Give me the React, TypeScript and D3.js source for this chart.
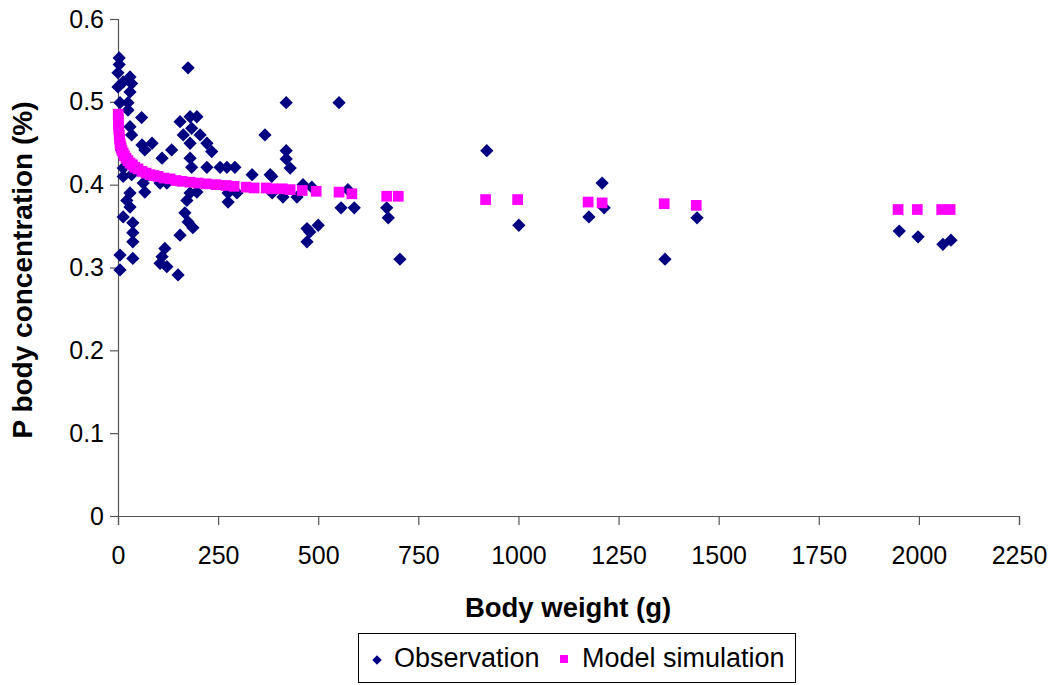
import React, { useEffect, useRef } from "react";
import * as d3 from "d3";

// observed body P (%) vs body weight (g)
const obsWeight = [
  3, 3, 0, 30, 34, 13, 0, 30, 5, 25, 25, 59, 175, 155, 180, 197, 184, 163, 205, 367,
  180, 222, 234, 60, 85, 134, 30, 34, 67, 110, 180, 184, 222, 255, 272, 292, 335, 380,
  13, 13, 34, 75, 63, 105, 122, 67, 275, 297, 180, 197, 172, 30, 22, 30, 275, 13, 167,
  175, 187, 37, 37, 155, 37, 117, 110, 5, 37, 105, 122, 5, 150,
  420, 552, 420, 420, 430, 384, 385, 412, 447, 462, 484, 574, 557, 590, 671, 675, 500,
  472, 479, 472, 704,
  921, 1001, 1209, 1176, 1214, 1366, 1446,
  1951, 1998, 2060, 2080,
];
const obsP = [
  0.553, 0.545, 0.535, 0.53, 0.522, 0.524, 0.518, 0.512, 0.499, 0.499, 0.49, 0.481, 0.541, 0.476, 0.482, 0.482, 0.468, 0.46, 0.46, 0.46,
  0.45, 0.45, 0.44, 0.448, 0.45, 0.442, 0.47, 0.46, 0.442, 0.432, 0.432, 0.421, 0.421, 0.421, 0.421, 0.421, 0.412, 0.412,
  0.42, 0.41, 0.412, 0.412, 0.402, 0.402, 0.402, 0.391, 0.39, 0.39, 0.39, 0.391, 0.381, 0.39, 0.381, 0.373, 0.379, 0.361, 0.366,
  0.355, 0.348, 0.354, 0.342, 0.339, 0.331, 0.323, 0.313, 0.315, 0.311, 0.305, 0.301, 0.297, 0.291,
  0.499, 0.499, 0.441, 0.431, 0.42, 0.41, 0.39, 0.385, 0.385, 0.4, 0.397, 0.394, 0.372, 0.372, 0.372, 0.36, 0.351,
  0.347, 0.343, 0.331, 0.31,
  0.441, 0.351, 0.402, 0.361, 0.372, 0.31, 0.36,
  0.344, 0.337, 0.328, 0.333,
];

// model simulation
const modelWeight = [
  0.5, 1, 1.5, 2, 3, 4, 5, 6, 8, 10, 13, 16, 20, 25, 30, 36, 42, 50, 60, 70, 80, 90, 100,
  115, 130, 145, 160, 180, 200, 220, 245, 270, 290, 320, 340, 370, 385, 410, 430, 460,
  495, 552, 584, 671, 700, 918, 998, 1174, 1209, 1364, 1444, 1948, 1996, 2057, 2078,
];
const modelP = [
  0.485, 0.478, 0.472, 0.467, 0.46, 0.455, 0.45, 0.447, 0.444, 0.441, 0.438, 0.435, 0.432, 0.429, 0.426, 0.424, 0.421, 0.419, 0.416, 0.414, 0.412, 0.411, 0.41,
  0.408, 0.407, 0.405, 0.404, 0.403, 0.402, 0.401, 0.4, 0.399, 0.398, 0.397, 0.396, 0.396, 0.395, 0.395, 0.394, 0.393,
  0.392, 0.391, 0.389, 0.386, 0.386, 0.382, 0.382, 0.379, 0.378, 0.377, 0.375, 0.37, 0.37, 0.37, 0.37,
];

const xTicks = [0, 250, 500, 750, 1000, 1250, 1500, 1750, 2000, 2250];
const yTicks = [0, 0.1, 0.2, 0.3, 0.4, 0.5, 0.6];

const navy = "#000080";
const magenta = "#ff00ff";
const font = "'Liberation Sans', Arial, sans-serif";

export default function App() {
  const ref = useRef<SVGSVGElement>(null);

  useEffect(() => {
    const svg = d3.select(ref.current);
    svg.selectAll("*").remove();

    const x = d3.scaleLinear().domain([0, 2250]).range([118, 1019]);
    const y = d3.scaleLinear().domain([0, 0.6]).range([516, 19]);

    const yAxis = svg.append("g").attr("transform", "translate(118,0)")
      .call(d3.axisLeft(y).tickValues(yTicks).tickSize(8).tickPadding(6).tickFormat(d => d === 0 ? "0" : d3.format(".1f")(d as number)));
    const xAxis = svg.append("g").attr("transform", "translate(0,516)")
      .call(d3.axisBottom(x).tickValues(xTicks).tickSize(9).tickPadding(21).tickFormat(d3.format("d")));

    [xAxis, yAxis].forEach(g => {
      g.select(".domain").attr("stroke", "#555").attr("stroke-width", 1.2);
      g.selectAll(".tick line").attr("stroke", "#555").attr("stroke-width", 1.2);
      g.selectAll(".tick text").attr("fill", "#000").style("font-family", font).style("font-size", "25px");
    });

    const diamond = d3.symbol().type(d3.symbolSquare).size(88)();
    const square = d3.symbol().type(d3.symbolSquare).size(115)();

    svg.append("g").selectAll("path").data(obsWeight).join("path")
      .attr("d", diamond)
      .attr("fill", navy)
      .attr("transform", (d, i) => `translate(${x(d)},${y(obsP[i])}) rotate(45)`);

    svg.append("g").selectAll("path").data(modelWeight).join("path")
      .attr("d", square)
      .attr("fill", magenta)
      .attr("transform", (d, i) => `translate(${x(d)},${y(modelP[i])})`);

    svg.append("text")
      .attr("x", 568).attr("y", 617)
      .attr("text-anchor", "middle")
      .style("font-family", font).style("font-size", "27.5px").style("font-weight", "bold")
      .text("Body weight (g)");

    svg.append("text")
      .attr("transform", "translate(32,270) rotate(-90)")
      .attr("text-anchor", "middle")
      .style("font-family", font).style("font-size", "28px").style("font-weight", "bold")
      .text("P body concentration (%)");

    // legend
    const lg = svg.append("g");
    lg.append("rect").attr("x", 358.5).attr("y", 633.5).attr("width", 437).attr("height", 49)
      .attr("fill", "#fff").attr("stroke", "#000").attr("stroke-width", 1);
    lg.append("path").attr("d", d3.symbol().type(d3.symbolSquare).size(45)())
      .attr("fill", navy).attr("transform", "translate(377,660) rotate(45)");
    lg.append("text").attr("x", 394).attr("y", 667)
      .style("font-family", font).style("font-size", "27px").text("Observation");
    lg.append("path").attr("d", d3.symbol().type(d3.symbolSquare).size(64)())
      .attr("fill", magenta).attr("transform", "translate(564,659)");
    lg.append("text").attr("x", 582).attr("y", 667)
      .style("font-family", font).style("font-size", "27px").text("Model simulation");
  }, []);

  return (
    <svg ref={ref} width={1055} height={685}
      style={{ position: "absolute", left: 0, top: 0, background: "#fff" }} />
  );
}
